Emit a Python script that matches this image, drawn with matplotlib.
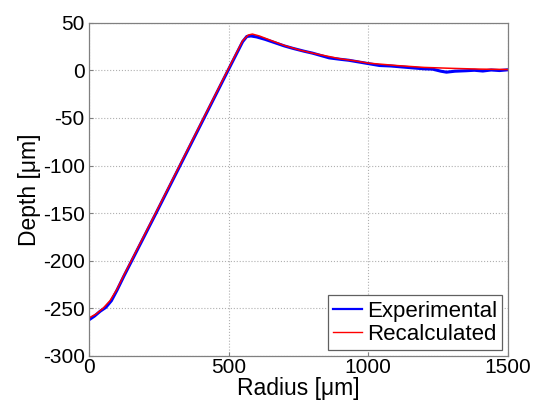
import matplotlib
matplotlib.use('Agg')
from matplotlib import pyplot as plt

plt.rcParams['font.family'] = ['Liberation Sans', 'DejaVu Sans']
plt.rcParams['axes.unicode_minus'] = False

# Experimental profile
exp_r = [0, 20, 40, 60, 80, 100, 125, 153, 200, 240, 326, 412, 498, 550, 565,
         580, 600, 630, 660, 700, 730, 770, 800, 830, 860, 900, 930, 960, 1000,
         1040, 1080, 1120, 1160, 1200, 1230, 1260, 1280, 1310, 1350, 1380, 1410,
         1440, 1470, 1500]
exp_d = [-262, -258, -253, -249, -242, -231, -216, -200, -173, -150, -100, -50,
         0, 30, 35.5, 36, 35, 32.5, 29.5, 25.5, 23, 20, 18, 15.5, 13, 11.5, 10.5,
         9, 7, 5, 4.5, 3.5, 2.5, 1.5, 1.2, -1, -2, -1, -0.5, 0, -0.8, 0.3, -0.3,
         0.5]

# Recalculated profile
rec_r = [0, 25, 50, 75, 100, 125, 153, 240, 326, 412, 498, 550, 570, 585, 610,
         650, 700, 750, 800, 850, 900, 950, 1000, 1100, 1200, 1300, 1400, 1500]
rec_d = [-260, -256, -250, -242, -230, -215, -199, -149, -99, -49, 1, 31, 37,
         38, 36, 31.5, 26, 21.5, 18, 15, 12, 10, 7.5, 5, 3, 2, 1.2, 0.8]

x_ticks = [0, 500, 1000, 1500]
y_ticks = [50, 0, -50, -100, -150, -200, -250, -300]

fig = plt.figure(figsize=(5.35, 4.08), dpi=100)
ax = fig.add_axes([0.1664, 0.1275, 0.783, 0.817])

ax.plot(exp_r, exp_d, color='#0000ff', lw=2.2, label='Experimental')
ax.plot(rec_r, rec_d, color='#ff0000', lw=1.1, label='Recalculated')

ax.set_xlim(0, 1500)
ax.set_ylim(-300, 50)
ax.set_xticks(x_ticks)
ax.set_yticks(y_ticks)
ax.tick_params(direction='in', length=3, color='#808080', labelsize=15)
ax.tick_params(axis='x', pad=1.5)
ax.tick_params(axis='y', pad=3)
ax.grid(True, linestyle=':', color='#b0b0b0', lw=0.8)
for s in ax.spines.values():
    s.set_color('#808080')
    s.set_linewidth(0.9)

ax.set_xlabel('Radius [\u03bcm]', fontsize=16.5, labelpad=0)
ax.set_ylabel('Depth [\u03bcm]', fontsize=16.5, labelpad=1)

leg = ax.legend(loc='lower right', fontsize=16, fancybox=False,
                handlelength=1.3, handletextpad=0.2, borderpad=0.25,
                labelspacing=0.1, borderaxespad=0.25, framealpha=1)
leg.get_frame().set_edgecolor('#606060')
leg.get_frame().set_linewidth(0.9)
# legend handles: blue a bit thicker, red thin as in the original
leg.get_lines()[0].set_linewidth(1.6)
leg.get_lines()[1].set_linewidth(1.0)

fig.savefig('out.png', dpi=100)
